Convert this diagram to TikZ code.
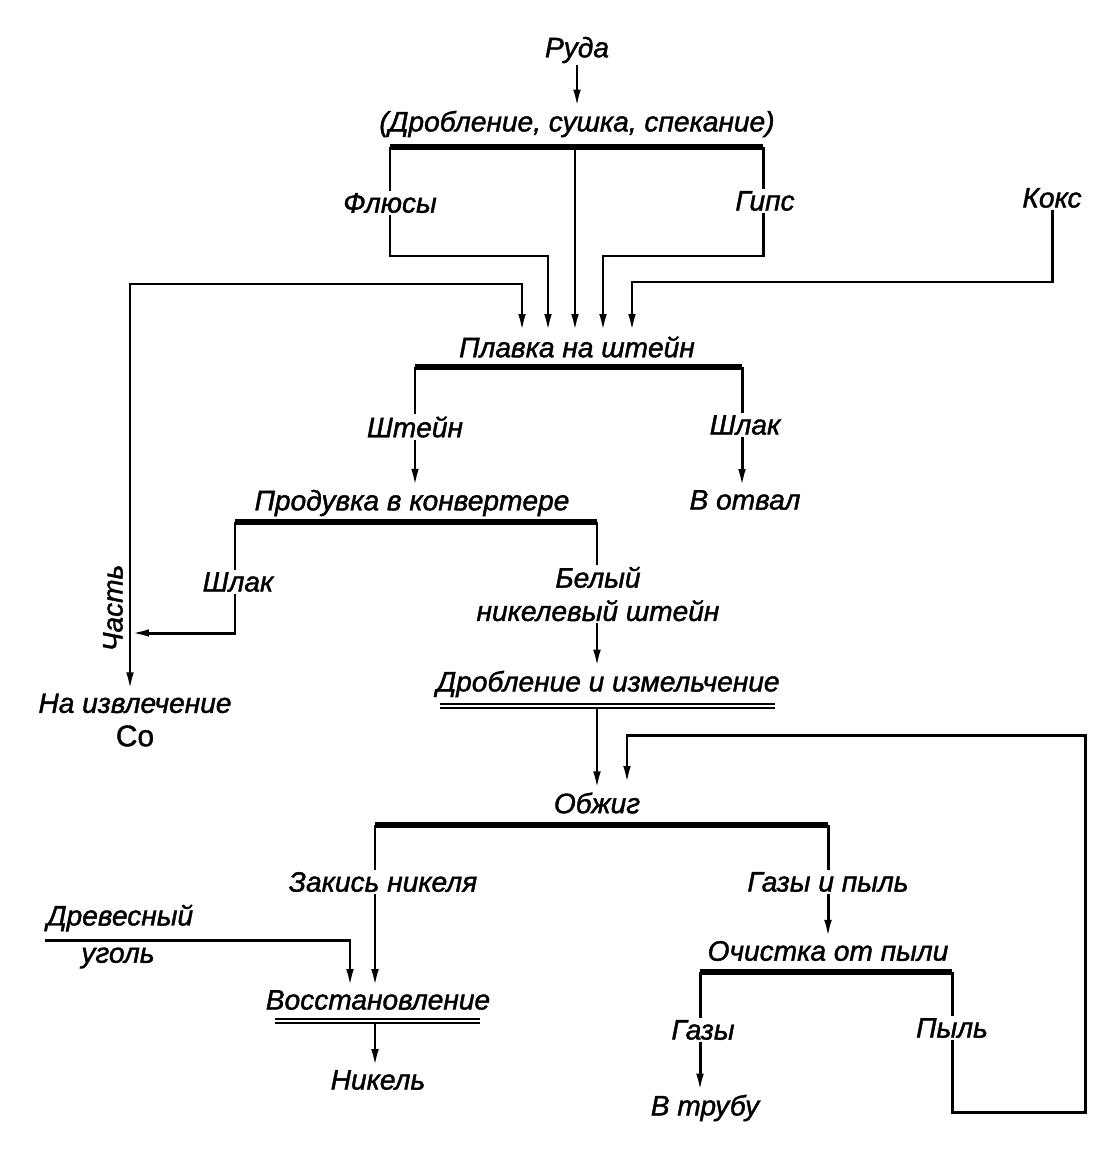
\documentclass[tikz,border=0pt]{standalone}
\usepackage{fontspec}
\setmainfont{Liberation Sans}
\newfontfamily\flowfont[FakeBold=1.4]{Liberation Sans}
\usetikzlibrary{arrows.meta}

\tikzset{
    lbl/.style={inner sep=1pt, font=\flowfont\itshape\fontsize{16}{19}\selectfont},
    wire/.style={line width=1.7pt},
    arr/.style={wire, -{Latex[length=3.8mm,width=1.5mm]}},
    bar/.style={line width=3pt},
    dbl/.style={double, double distance=1.2pt, line width=1.3pt}
}

\begin{document}
\begin{tikzpicture}[x=0.02cm, y=-0.02cm]
    \useasboundingbox (0,0) rectangle (1105,1150);

    % ore preparation
    \node[lbl] (ruda) at (577,50) {Руда};
    \node[lbl] (prep) at (577,124) {(Дробление, сушка, спекание)};
    \draw[arr] (ruda) -- (prep);
    \coordinate (prepL) at (390,147);
    \coordinate (prepM) at (575,147);
    \coordinate (prepR) at (763,147);
    \draw[bar] (prepL) -- (prepR);

    \node[lbl] (flux) at (390,203) {Флюсы};
    \node[lbl] (gips) at (765,201) {Гипс};
    \node[lbl] (koks) at (1052,198) {Кокс};

    % matte smelting
    \node[lbl] (plavka) at (577,347) {Плавка на штейн};
    \coordinate (in1) at (522,333);
    \coordinate (in2) at (548,333);
    \coordinate (in3) at (575,333);
    \coordinate (in4) at (603,333);
    \coordinate (in5) at (632,333);
    \draw[wire] (prepL) -- (flux.north);
    \draw[arr] (flux.south) -- (390,256) -| (in2);
    \draw[arr] (prepM) -- (in3);
    \draw[wire] (prepR) -- (gips.north -| prepR);
    \draw[arr] (gips.south -| prepR) -- (763,256) -| (in4);
    \draw[arr] (koks.south) -- (1052,282) -| (in5);

    \coordinate (plavL) at (415,367);
    \coordinate (plavR) at (742,367);
    \draw[bar] (plavL) -- (plavR);
    \node[lbl] (shtein) at (415,427) {Штейн};
    \node[lbl] (shlakA) at (745,425) {Шлак};
    \node[lbl] (otval) at (745,500) {В отвал};
    \draw[wire] (plavL) -- (shtein.north -| plavL);
    \draw[wire] (plavR) -- (shlakA.north -| plavR);
    \draw[arr] (shlakA.south -| plavR) -- (otval.north -| plavR);

    % converter
    \node[lbl] (konv) at (412,503) {Продувка в конвертере};
    \draw[arr] (shtein.south -| plavL) -- (konv.north -| plavL);
    \coordinate (konvL) at (235,522);
    \coordinate (konvR) at (597,522);
    \draw[bar] (konvL) -- (konvR);
    \node[lbl] (shlakB) at (238,582) {Шлак};
    \node[lbl, align=center] (belyi) at (598,594) {Белый\\никелевый штейн};
    \draw[wire] (konvL) -- (shlakB.north -| konvL);
    \draw[wire] (konvR) -- (belyi.north -| konvR);

    % cobalt branch
    \node[lbl, align=center] (cobalt) at (135,720) {На извлечение\\\upshape\fontsize{17}{19}\selectfont Co};
    \node[lbl, rotate=90] (chast) at (113,608) {Часть};
    \coordinate (split) at (130,633);
    \draw[arr] (shlakB.south -| konvL) |- (split);
    \draw[arr] (split) -- (cobalt.north -| split);
    \draw[arr] (split) -- (130,284) -| (in1);

    % grinding and roasting
    \node[lbl] (grind) at (608,684) {Дробление и измельчение};
    \draw[arr] (belyi.south -| konvR) -- (grind.north -| konvR);
    \draw[dbl] (440,706) -- (775,706);
    \node[lbl] (obzhig) at (597,803) {Обжиг};
    \draw[arr] (597,708) -- (obzhig.north -| konvR);
    \coordinate (ret) at (627,785);

    \coordinate (obzL) at (375,825);
    \coordinate (obzR) at (828,825);
    \draw[bar] (obzL) -- (obzR);

    % reduction
    \node[lbl] (zakis) at (383,882) {Закись никеля};
    \node[lbl] (vosst) at (378,1000) {Восстановление};
    \draw[dbl] (275,1021) -- (480,1021);
    \node[lbl] (nikel) at (378,1080) {Никель};
    \node[lbl] (drev) at (120,918) {Древесный};
    \node[lbl] (ugol) at (118,958) {уголь};
    \draw[wire] (obzL) -- (zakis.north -| obzL);
    \draw[arr] (zakis.south -| obzL) -- (vosst.north -| obzL);
    \draw[arr] (45,940) -| (vosst.north -| 350,0);
    \draw[arr] (375,1023) -- (nikel.north -| obzL);

    % dust cleaning
    \node[lbl] (gazpyl) at (828,882) {Газы и пыль};
    \node[lbl] (ochist) at (828,951) {Очистка от пыли};
    \draw[wire] (obzR) -- (gazpyl.north -| obzR);
    \draw[arr] (gazpyl.south -| obzR) -- (ochist.north -| obzR);
    \coordinate (ochL) at (700,972);
    \coordinate (ochR) at (952,972);
    \draw[bar] (ochL) -- (ochR);
    \node[lbl] (gazy) at (703,1030) {Газы};
    \node[lbl] (truba) at (705,1108) {В трубу};
    \node[lbl] (pyl) at (952,1028) {Пыль};
    \draw[wire] (ochL) -- (gazy.north -| ochL);
    \draw[wire] (ochR) -- (pyl.north -| ochR);
    \draw[arr] (gazy.south -| ochL) -- (truba.north -| ochL);
    \draw[arr] (pyl.south -| ochR) -- (952,1112) -- (1085,1112) -- (1085,735) -| (ret);
\end{tikzpicture}
\end{document}
